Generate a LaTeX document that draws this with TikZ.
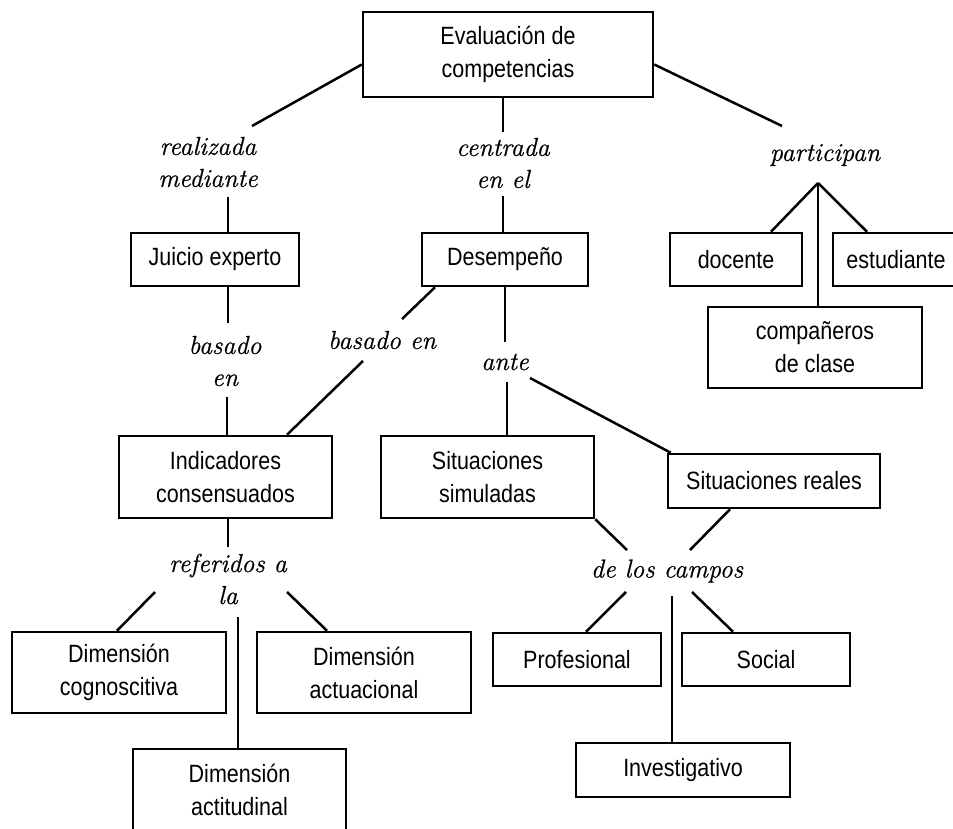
\documentclass[tikz,border=0pt]{standalone}
\usepackage{fontspec}
\setsansfont{Liberation Sans}[FakeStretch=0.86]
\newfontfamily\lblfont{Latin Modern Roman}[ItalicFeatures={FakeBold=0.6}]
\usetikzlibrary{calc}
\tikzset{
  box/.style={draw, line width=2.5pt, rectangle, inner sep=0pt, align=center,
    font=\sffamily\fontsize{25}{33}\selectfont},
  lbl/.style={inner sep=0pt, align=center, font=\lblfont\itshape\fontsize{26}{32}\selectfont},
  conn/.style={line width=2.5pt}
}
\begin{document}
\begin{tikzpicture}[x=1pt,y=-1pt]
\clip (0,0) rectangle (953,829);
\fill[white] (0,0) rectangle (953,829);
% boxes
\node[box, minimum width=290pt, minimum height=85pt] (eval) at (508,54.5) {Evaluación de\\competencias};
\node[box, minimum width=168pt, minimum height=53pt] (juicio) at (215,259.5) {Juicio experto};
\node[box, minimum width=166pt, minimum height=53pt] (desemp) at (505,259.5) {Desempeño};
\node[box, minimum width=132pt, minimum height=53pt] (docente) at (736,259.5) {docente};
\node[box, minimum width=126pt, minimum height=53pt] (estud) at (896,259.5) {estudiante};
\node[box, minimum width=214pt, minimum height=81pt] (comp) at (815,347.5) {compañeros\\de clase};
\node[box, minimum width=213pt, minimum height=82pt] (indic) at (225.5,477) {Indicadores\\consensuados};
\node[box, minimum width=213pt, minimum height=82pt] (simul) at (487.5,477) {Situaciones\\simuladas};
\node[box, minimum width=212pt, minimum height=54pt] (reales) at (774,481) {Situaciones reales};
\node[box, minimum width=214pt, minimum height=81pt] (cogn) at (119,672.5) {Dimensión\\cognoscitiva};
\node[box, minimum width=214pt, minimum height=81pt] (actua) at (364,672.5) {Dimensión\\actuacional};
\node[box, minimum width=213pt, minimum height=81pt] (actit) at (239.5,789.5) {Dimensión\\actitudinal};
\node[box, minimum width=168pt, minimum height=53pt] (prof) at (577,659.5) {Profesional};
\node[box, minimum width=168pt, minimum height=53pt] (social) at (766,659.5) {Social};
\node[box, minimum width=214pt, minimum height=54pt] (invest) at (683,770) {Investigativo};
% labels
\node[lbl] (lreal) at (208,162) {realizada\\mediante};
\node[lbl] (lcentr) at (503,163) {centrada\\en el};
\node[lbl] (lpart) at (825,155) {participan};
\node[lbl] (lbas1) at (225,361) {basado\\en};
\node[lbl] (lbas2) at (382,340) {basado en};
\node[lbl] (lante) at (505,362) {ante};
\node[lbl] (lref) at (228,579) {referidos a\\la};
\node[lbl] (lcamp) at (667,571) {de los campos};
% label-side ends
\coordinate (c1) at (252,126);
\coordinate (c2) at (503,132);
\coordinate (c3) at (782,126);
\coordinate (c4) at (228,197);
\coordinate (c5) at (503,196);
\coordinate (c6) at (818,183);
\coordinate (c7) at (228,323);
\coordinate (c8) at (227,397);
\coordinate (c9) at (402,319);
\coordinate (c10) at (363,361);
\coordinate (c11) at (505,342);
\coordinate (c12) at (507,382);
\coordinate (c13) at (530,378);
\coordinate (c14) at (228,547);
\coordinate (c15) at (155,592);
\coordinate (c16) at (287,592);
\coordinate (c17) at (238,617);
\coordinate (c18) at (627,550);
\coordinate (c19) at (690,550);
\coordinate (c20) at (626,592);
\coordinate (c21) at (692,592);
\coordinate (c22) at (672,596);
% connectors
\draw[conn] ([yshift=-10pt]eval.west) -- (c1);
\draw[conn] (c2) -- (c2 |- eval.south);
\draw[conn] ([yshift=-10pt]eval.east) -- (c3);
\draw[conn] (c4) -- (c4 |- juicio.north);
\draw[conn] (c5) -- (c5 |- desemp.north);
\draw[conn] (c6) -- ([xshift=35pt]docente.north);
\draw[conn] (c6) -- ([xshift=-29pt]estud.north);
\draw[conn] (c6) -- (c6 |- comp.north);
\draw[conn] (c7 |- juicio.south) -- (c7);
\draw[conn] (c8) -- (c8 |- indic.north);
\draw[conn] ([xshift=-70pt]desemp.south) -- (c9);
\draw[conn] (c10) -- ([xshift=61.5pt]indic.north);
\draw[conn] (c11) -- (c11 |- desemp.south);
\draw[conn] (c12) -- (c12 |- simul.north);
\draw[conn] (c13) -- ([xshift=4pt]reales.north west);
\draw[conn] (c14) -- (c14 |- indic.south);
\draw[conn] (c15) -- ([xshift=-2pt]cogn.north);
\draw[conn] (c16) -- ([xshift=-37pt]actua.north);
\draw[conn] (c17) -- (c17 |- actit.north);
\draw[conn] (simul.south east) -- (c18);
\draw[conn] ([xshift=-44pt]reales.south) -- (c19);
\draw[conn] (c20) -- ([xshift=9pt]prof.north);
\draw[conn] (c21) -- ([xshift=-33pt]social.north);
\draw[conn] (c22) -- (c22 |- invest.north);
\end{tikzpicture}
\end{document}
